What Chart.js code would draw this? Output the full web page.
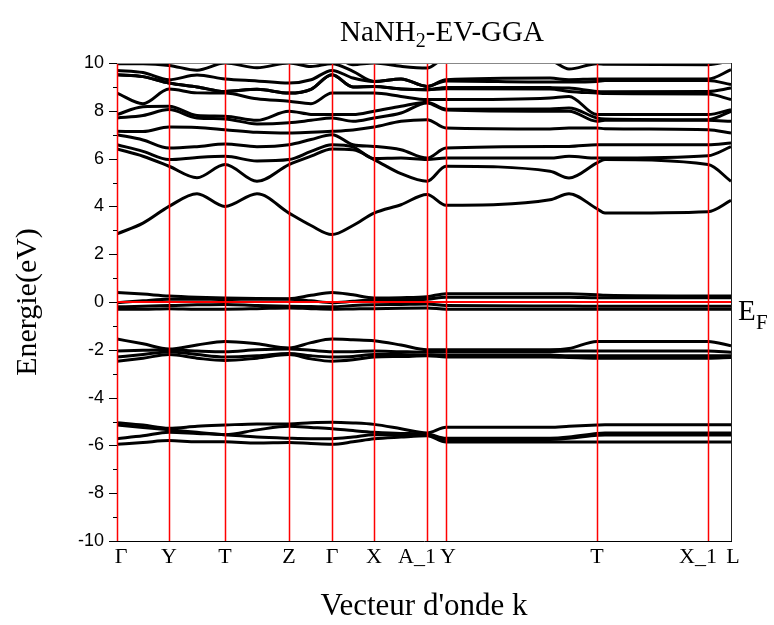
<!DOCTYPE html>
<html>
<head>
<meta charset="utf-8">
<script src="https://cdn.jsdelivr.net/npm/chart.js@4.4.1/dist/chart.umd.min.js"></script>
<style>
  body { margin: 0; background: #fff; }
  canvas { display: block; }
</style>
</head>
<body>
<canvas id="bands" width="774" height="625"></canvas>
<script>
// high symmetry points along the path
const kTicks = [0, 52, 108, 172, 215, 257, 310, 329, 480, 591, 614];
const kNames = ['Γ', 'Y', 'T', 'Z', 'Γ', 'X', 'A_1', 'Y', 'T', 'X_1', 'L'];

// k positions where the bands are sampled
const kPath = [0, 26, 52, 80, 108, 140, 172, 194, 215, 236, 257, 284, 310, 329, 433, 452, 480, 488, 591, 614];

// valence bands, -6 .. -5 eV
const lowBands = [
  [-5.05, -5.15, -5.28, -5.2, -5.15, -5.1, -5.1, -5.05, -5.03, -5.06, -5.12, -5.3, -5.48, -5.24, -5.24, -5.2, -5.15, -5.14, -5.14, -5.14],
  [-5.15, -5.25, -5.35, -5.45, -5.55, -5.35, -5.2, -5.25, -5.3, -5.38, -5.45, -5.5, -5.52, -5.7, -5.7, -5.65, -5.5, -5.48, -5.48, -5.48],
  [-5.72, -5.6, -5.45, -5.5, -5.55, -5.65, -5.7, -5.72, -5.72, -5.65, -5.55, -5.55, -5.55, -5.75, -5.75, -5.7, -5.58, -5.56, -5.56, -5.56],
  [-5.95, -5.88, -5.8, -5.85, -5.85, -5.9, -5.88, -5.92, -5.95, -5.85, -5.72, -5.65, -5.6, -5.86, -5.86, -5.86, -5.86, -5.86, -5.86, -5.86]
];

// valence bands, -2.5 .. -1.5 eV
const midBands = [
  [-1.55, -1.75, -1.97, -1.8, -1.65, -1.75, -1.92, -1.7, -1.55, -1.58, -1.62, -1.8, -2.0, -2.0, -2.0, -1.95, -1.65, -1.65, -1.65, -1.83],
  [-2.05, -2.02, -2.0, -2.05, -2.08, -2.0, -1.97, -2.02, -2.08, -2.08, -2.05, -2.08, -2.1, -2.08, -2.08, -2.05, -2.05, -2.05, -2.05, -2.1],
  [-2.3, -2.2, -2.08, -2.2, -2.3, -2.25, -2.15, -2.25, -2.3, -2.28, -2.2, -2.2, -2.22, -2.22, -2.22, -2.25, -2.25, -2.25, -2.25, -2.25],
  [-2.48, -2.35, -2.2, -2.35, -2.45, -2.35, -2.2, -2.38, -2.48, -2.42, -2.3, -2.28, -2.25, -2.3, -2.3, -2.32, -2.35, -2.35, -2.35, -2.32]
];

// bands around the Fermi level
const topBands = [
  [0.40, 0.33, 0.25, 0.2, 0.17, 0.15, 0.14, 0.28, 0.40, 0.3, 0.17, 0.18, 0.22, 0.35, 0.35, 0.34, 0.3, 0.28, 0.25, 0.25],
  [-0.03, 0.05, 0.12, 0.12, 0.1, 0.12, 0.12, 0.05, -0.03, 0.03, 0.08, 0.1, 0.12, 0.2, 0.2, 0.2, 0.18, 0.18, 0.18, 0.18],
  [-0.2, -0.18, -0.15, -0.12, -0.1, -0.15, -0.18, -0.19, -0.2, -0.15, -0.12, -0.1, -0.08, -0.15, -0.17, -0.17, -0.18, -0.18, -0.18, -0.18],
  [-0.3, -0.3, -0.28, -0.3, -0.3, -0.28, -0.25, -0.28, -0.3, -0.29, -0.28, -0.26, -0.25, -0.3, -0.3, -0.3, -0.3, -0.3, -0.3, -0.3]
];

// lowest conduction band
const gapBand = [2.85, 3.3, 4.0, 4.53, 4.0, 4.53, 3.72, 3.2, 2.82, 3.2, 3.72, 4.07, 4.5, 4.05, 4.28, 4.53, 3.9, 3.72, 3.78, 4.25];

// higher conduction bands, one row per k position (lowest band first)
const upperByK = [
  [6.40, 6.58, 7.0, 7.14, 7.70, 7.84, 8.74, 9.51, 9.51, 9.69, 9.97, 10.3],
  [6.1, 6.3, 6.78, 7.13, 7.8, 8.17, 8.3, 9.43, 9.43, 9.6, 9.97, 10.3],
  [5.68, 5.96, 6.44, 7.32, 8.05, 8.19, 8.91, 9.16, 9.16, 9.30, 9.9, 10.3],
  [5.2, 6.05, 6.5, 7.3, 7.7, 7.8, 8.75, 9.0, 9.0, 9.5, 9.7, 10.3],
  [5.75, 6.1, 6.61, 7.21, 7.66, 7.77, 8.74, 8.81, 8.81, 9.33, 10.0, 10.3],
  [5.05, 5.9, 6.5, 7.1, 7.45, 7.6, 8.5, 8.9, 8.9, 9.25, 9.8, 10.3],
  [5.75, 5.96, 6.58, 7.07, 7.5, 7.98, 8.4, 8.74, 8.74, 9.16, 10.0, 10.3],
  [6.1, 6.3, 6.8, 7.1, 7.6, 7.85, 8.3, 8.9, 8.9, 9.3, 9.85, 10.3],
  [6.40, 6.58, 7.0, 7.14, 7.70, 7.84, 8.74, 9.51, 9.51, 9.69, 9.97, 10.3],
  [6.37, 6.49, 6.58, 7.2, 7.56, 7.84, 8.74, 9.0, 9.0, 9.37, 9.65, 9.93],
  [5.96, 6.0, 6.51, 7.32, 7.7, 7.98, 8.74, 9.02, 9.02, 9.23, 9.23, 10.0],
  [5.37, 6.02, 6.37, 7.56, 7.91, 8.19, 8.6, 8.91, 8.91, 9.33, 9.33, 9.86],
  [5.05, 5.96, 6.02, 7.63, 8.33, 8.36, 8.47, 8.88, 8.88, 9.02, 9.02, 9.79],
  [5.68, 6.02, 6.44, 7.28, 8.03, 8.07, 8.47, 8.92, 8.98, 9.25, 9.3, 10.2],
  [5.47, 6.02, 6.51, 7.24, 7.98, 8.08, 8.54, 8.91, 8.97, 9.2, 9.37, 10.1],
  [5.19, 6.1, 6.51, 7.28, 7.98, 8.12, 8.6, 8.81, 8.95, 9.2, 9.3, 9.75],
  [5.82, 6.02, 6.58, 7.28, 7.56, 7.7, 7.84, 8.74, 8.81, 9.23, 9.33, 9.97],
  [5.96, 6.02, 6.58, 7.25, 7.6, 7.66, 7.84, 8.72, 8.8, 9.27, 9.33, 9.95],
  [5.75, 6.12, 6.58, 7.21, 7.6, 7.63, 7.84, 8.7, 8.81, 9.27, 9.33, 9.93],
  [5.05, 6.5, 6.65, 7.07, 7.56, 7.98, 8.05, 8.47, 8.95, 9.1, 9.72, 10.1]
];

// one row per band
const upBands = upperByK[0].map((_, b) => upperByK.map(row => row[b]));
const allBands = [...lowBands, ...midBands, ...topBands, gapBand, ...upBands];

const datasets = [{
  // Fermi level, drawn on top
  data: [{x: 0, y: 0}, {x: 614, y: 0}],
  borderColor: '#ff0000',
  borderWidth: 2,
  pointRadius: 0,
  clip: 0
}];
allBands.forEach(band => {
  datasets.push({
    data: band.map((e, i) => ({x: kPath[i], y: e})),
    borderColor: '#000',
    borderWidth: 3,
    pointRadius: 0,
    cubicInterpolationMode: 'monotone',
    clip: 0
  });
});

// label nudges so that A_1/Y and X_1/L do not collide
const labelShift = [4, 0, 0, 0, 0, 0, -10, 2, 0, -10, 2];

// k lines, frame, ticks and all the text
const decor = {
  id: 'decor',
  afterDatasetsDraw(chart) {
    const {ctx, chartArea: a, scales: {x}} = chart;
    ctx.save();
    ctx.lineWidth = 1.5;
    ctx.strokeStyle = '#ff0000';
    kTicks.forEach((k, i) => {
      if (i === kTicks.length - 1) return;
      const px = Math.round(x.getPixelForValue(k)) + 0.5;
      ctx.beginPath();
      ctx.moveTo(px, a.top);
      ctx.lineTo(px, a.bottom);
      ctx.stroke();
    });
    ctx.restore();
  },
  afterDraw(chart) {
    const {ctx, chartArea: a, scales: {x, y}} = chart;
    ctx.save();
    ctx.lineWidth = 1;
    ctx.strokeStyle = '#888';
    ctx.beginPath();
    ctx.moveTo(a.left, a.top + 0.5);
    ctx.lineTo(a.right, a.top + 0.5);
    ctx.stroke();
    ctx.strokeStyle = '#222';
    ctx.beginPath();
    ctx.moveTo(a.right + 0.5, a.top);
    ctx.lineTo(a.right + 0.5, a.bottom);
    ctx.stroke();
    ctx.strokeStyle = '#000';
    ctx.beginPath();
    ctx.moveTo(a.left, a.bottom + 0.5);
    ctx.lineTo(a.right + 1, a.bottom + 0.5);
    ctx.stroke();

    // y ticks, long on even values
    for (let v = -10; v <= 10; v++) {
      const py = Math.round(y.getPixelForValue(v)) + 0.5;
      const len = v % 2 === 0 ? 8 : 4;
      ctx.beginPath();
      ctx.moveTo(a.left - len, py);
      ctx.lineTo(a.left, py);
      ctx.stroke();
    }

    ctx.fillStyle = '#000';
    ctx.textBaseline = 'alphabetic';

    // k point names
    ctx.font = '22px "Liberation Serif"';
    ctx.textAlign = 'center';
    kTicks.forEach((k, i) => {
      ctx.fillText(kNames[i], x.getPixelForValue(k) + labelShift[i], 563);
    });

    // title with subscript
    ctx.textAlign = 'left';
    const t1 = 'NaNH', t3 = '-EV-GGA';
    ctx.font = '29px "Liberation Serif"';
    const w1 = ctx.measureText(t1).width;
    const w3 = ctx.measureText(t3).width;
    ctx.font = '20px "Liberation Serif"';
    const w2 = ctx.measureText('2').width;
    const x0 = 442 - (w1 + w2 + w3) / 2;
    ctx.font = '29px "Liberation Serif"';
    ctx.fillText(t1, x0, 41);
    ctx.font = '20px "Liberation Serif"';
    ctx.fillText('2', x0 + w1, 47);
    ctx.font = '29px "Liberation Serif"';
    ctx.fillText(t3, x0 + w1 + w2, 41);

    // Fermi level label
    ctx.font = '29px "Liberation Serif"';
    ctx.fillText('E', a.right + 7, 320);
    ctx.font = '21px "Liberation Serif"';
    ctx.fillText('F', a.right + 25, 329);
    ctx.restore();
  }
};

new Chart(document.getElementById('bands'), {
  type: 'line',
  data: {datasets},
  options: {
    responsive: false,
    animation: false,
    events: [],
    layout: {padding: {top: 63, right: 43, left: 0, bottom: 0}},
    plugins: {legend: {display: false}, tooltip: {enabled: false}},
    scales: {
      x: {
        type: 'linear',
        min: 0,
        max: 614,
        afterFit: s => { s.height = 84; },
        ticks: {display: false},
        grid: {display: false},
        border: {display: false},
        title: {
          display: true,
          text: "Vecteur d'onde k",
          color: '#000',
          font: {family: 'Liberation Serif', size: 31},
          padding: {top: 0, bottom: 0}
        }
      },
      y: {
        min: -10,
        max: 10,
        afterFit: s => { s.width = 117; },
        ticks: {
          stepSize: 1,
          padding: 5,
          color: '#000',
          font: {family: 'Liberation Sans', size: 18},
          callback: v => (v % 2 === 0 ? v : '')
        },
        grid: {display: false},
        border: {display: true, color: '#ff0000', width: 1},
        title: {
          display: true,
          text: 'Energie(eV)',
          color: '#000',
          font: {family: 'Liberation Serif', size: 30},
          padding: {top: 10, bottom: 0}
        }
      }
    }
  },
  plugins: [decor]
});
</script>
</body>
</html>
